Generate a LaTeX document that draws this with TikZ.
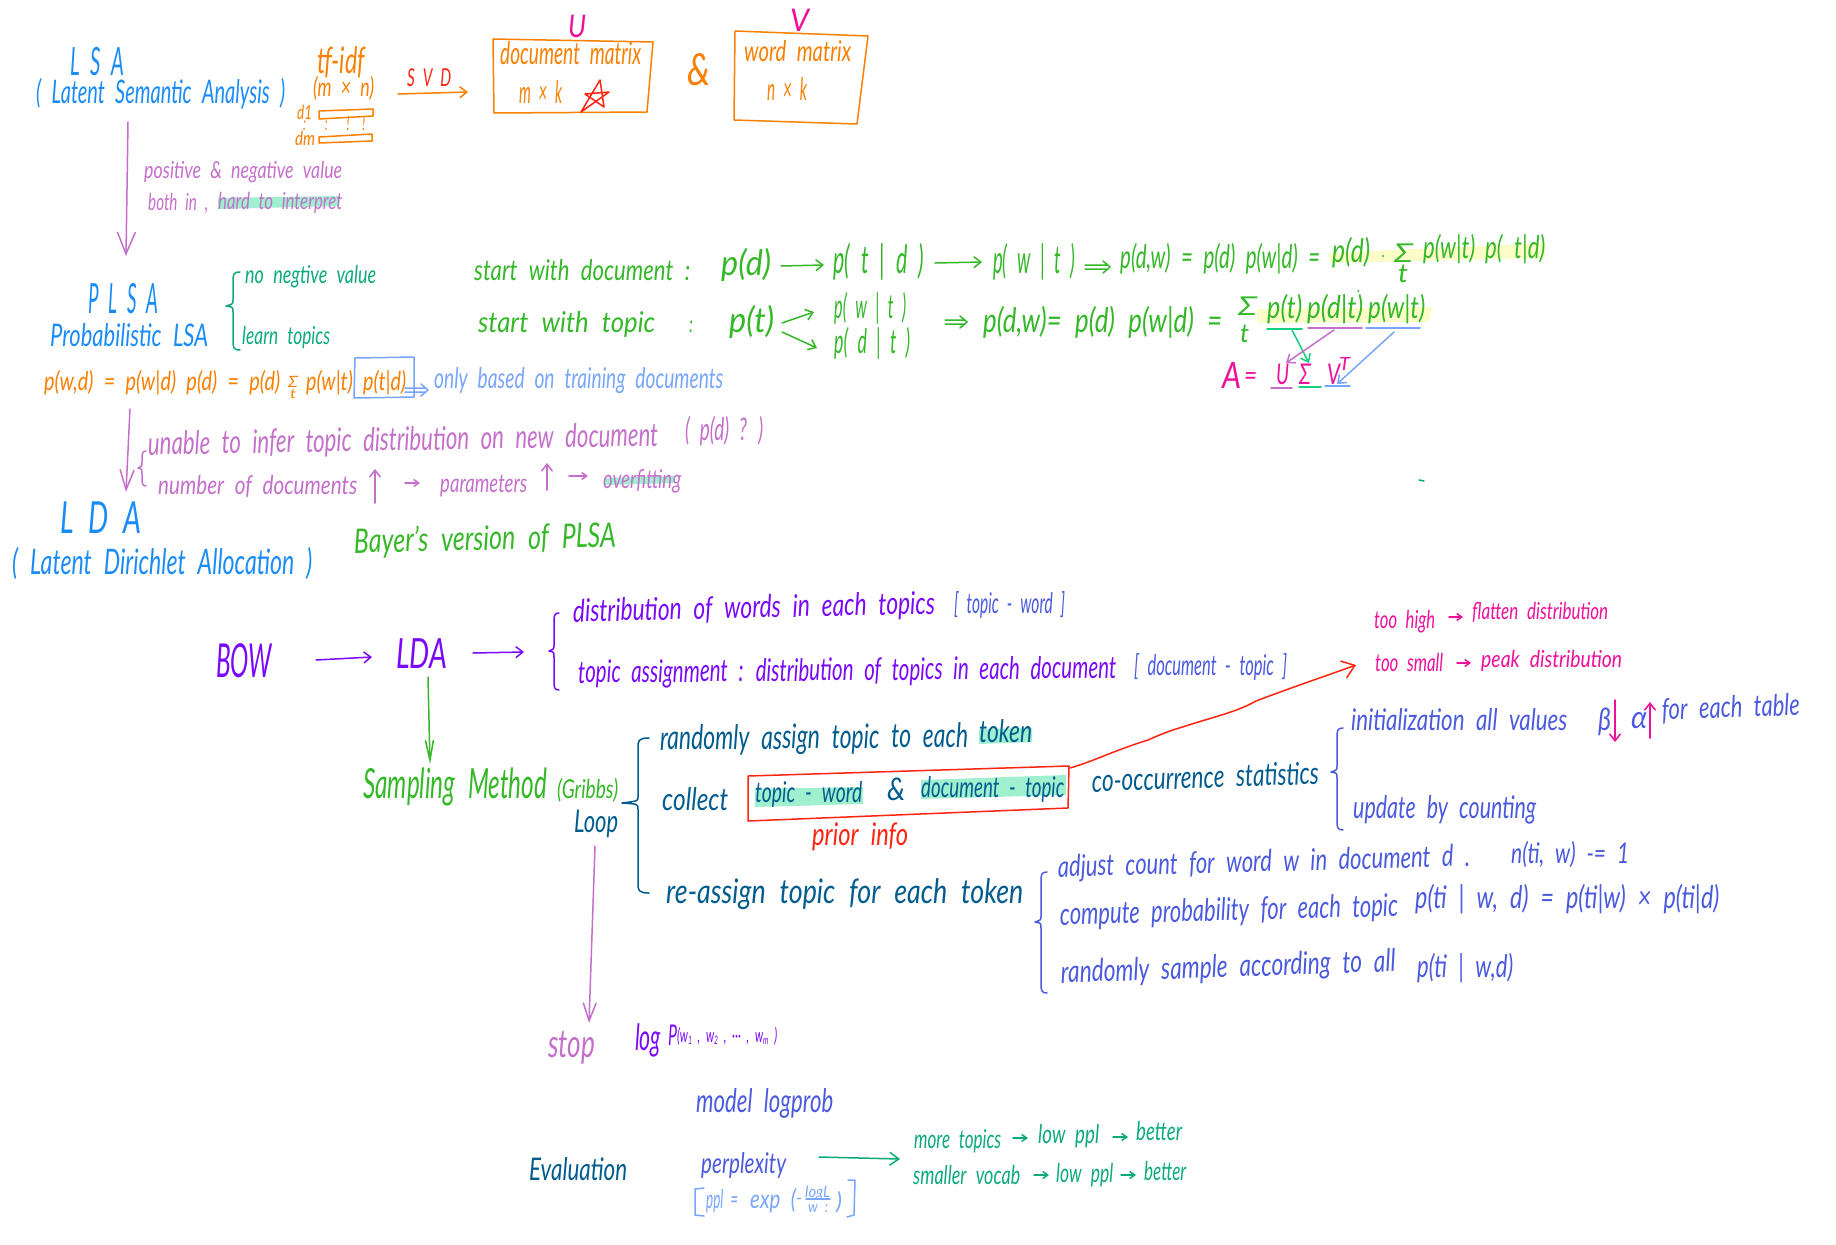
\documentclass[tikz,border=0pt]{standalone}
\usepackage{fontspec}
\usepackage{graphicx}
\setmainfont{Lato}[WordSpace=2.2]
\usetikzlibrary{arrows.meta}
\definecolor{cBlue}{HTML}{1A8CF8}
\definecolor{cOrange}{HTML}{F98000}
\definecolor{cRed}{HTML}{FF2410}
\definecolor{cPink}{HTML}{EE109A}
\definecolor{cMauve}{HTML}{C470CA}
\definecolor{cGreen}{HTML}{34B828}
\definecolor{cTeal}{HTML}{0CAA7A}
\definecolor{cMint}{HTML}{14CF80}
\definecolor{cViolet}{HTML}{7A08FA}
\definecolor{cNavy}{HTML}{005C8E}
\definecolor{cIndigo}{HTML}{4A5ADE}
\definecolor{cSky}{HTML}{78A6FC}
\definecolor{cHiT}{HTML}{A0F0D0}
\definecolor{cHiY}{HTML}{FBFCC8}
\newcommand{\hw}[7][]{\node[inner sep=0pt,anchor=base west,text=#6,#1] (#2) at (#3) {\resizebox{#4bp}{1.3\height}{\fontsize{#5bp}{#5bp}\selectfont\itshape #7}};}
\newcommand{\subs}[1]{\raisebox{-0.15em}{\scalebox{0.6}{#1}}}
\newcommand{\arr}[5][]{\coordinate (#2-a) at (#3);\coordinate (#2-b) at (#4);\draw[hand,#5,-{Straight Barb[length=7bp,width=11bp]},#1] (#2-a) -- (#2-b);}
\newcommand{\dbl}[5]{\coordinate (#1-a) at (#2,#4);\coordinate (#1-b) at (#3,#4);\draw[hand,#5] ([yshift=2bp]#1-a) -- ([xshift=-2bp,yshift=2bp]#1-b) ([yshift=-2bp]#1-a) -- ([xshift=-2bp,yshift=-2bp]#1-b) ([xshift=-7bp,yshift=6bp]#1-b) -- (#1-b) -- ([xshift=-7bp,yshift=-6bp]#1-b);}
% brace: left tip x, stem x, right x, top, mid, bottom, colour
\newcommand{\brc}[7]{\draw[hand,#7] (#3,#4) .. controls (#2,#4) and (#2,{#4+3}) .. (#2,{#4+10}) -- (#2,{#5-6}) .. controls (#2,{#5-2}) .. (#1,#5) .. controls (#2,{#5+1}) .. (#2,{#5+6}) -- (#2,{#6-10}) .. controls (#2,{#6-3}) and (#2,#6) .. (#3,#6);}
\tikzset{hand/.style={line width=1.5bp,line cap=round,line join=round}}
\begin{document}
\begin{tikzpicture}[x=1bp,y=-1bp]
\useasboundingbox (0,0) rectangle (1836,1244);
\fill[white] (0,0) rectangle (1836,1244);
% highlights
\fill[cHiT] (218,198) -- (340,196) -- (339,206) -- (218,209) -- cycle;
\fill[cHiT] (604,478) -- (675,476) -- (675,483) -- (604,485) -- cycle;
\fill[cHiT] (979,729) -- (1032,728) -- (1032,742) -- (979,744) -- cycle;
\fill[cHiT] (755,789) -- (863,787) -- (863,804) -- (755,807) -- cycle;
\fill[cHiT] (921,780) -- (1066,775) -- (1066,795) -- (921,799) -- cycle;
\fill[cHiY] (1328,253) -- (1545,243) -- (1545,258) -- (1330,263) -- cycle;
\fill[cHiY] (1257,309) -- (1433,307) -- (1428,322) -- (1257,323) -- cycle;
% LSA block
\hw{lsa}{70,75}{54}{30}{cBlue}{L S A}
\hw{lsaf}{36,103}{249}{25}{cBlue}{( Latent Semantic Analysis )}
\hw{tfidf}{317,73}{48}{28}{cOrange}{tf-idf}
\hw{mn}{313,96}{61}{20}{cOrange}{(m × n)}
\hw{done}{297,119}{15}{15}{cOrange}{d1}
\hw{dm}{295,145}{20}{15}{cOrange}{dm}
\hw{dots}{303,130}{62}{15}{cOrange}{: \ \ : \ \ ! \ !}
\draw[hand,cOrange] (319,111) -- (373,109) -- (373,116) -- (319,119) -- cycle;
\draw[hand,cOrange] (319,137) -- (372,134) -- (372,141) -- (319,143) -- cycle;
\hw{svd}{407,86}{44}{19}{cRed}{S V D}
\arr{asvd}{398,94}{468,92}{cOrange}
\draw[hand,cOrange] (493,39) -- (653,42) -- (647,112) -- (494,113) -- cycle;
\hw{u}{568,37}{18}{24}{cPink}{U}
\hw{docm}{500,64}{141}{24}{cOrange}{document matrix}
\hw{mk}{519,103}{43}{24}{cOrange}{m × k}
\draw[hand,cRed] (600,80) -- (581,112) (581,112) -- (609,92) -- (585,94) -- (604,107) -- (600,80);
\hw{amp}{687,85}{23}{34}{cOrange}{\&}
\draw[hand,cOrange] (735,31) -- (868,36) -- (857,124) -- (734,120) -- cycle;
\hw{v}{790,31}{19}{24}{cPink}{V}
\hw{wordm}{744,61}{107}{22}{cOrange}{word matrix}
\hw{nk}{767,100}{40}{24}{cOrange}{n × k}
\arr[-{Straight Barb[length=22bp,width=18bp]}]{alsa}{128,122}{126,256}{cMauve}
\hw{pos}{144,178}{198}{18}{cMauve}{positive \& negative value}
\hw{both}{148,210}{60}{18}{cMauve}{both in ,}
\hw{hard}{218,209}{124}{18}{cMauve}{hard to interpret}
% PLSA block
\hw{plsa}{88,313}{70}{32}{cBlue}{P L S A}
\hw{plsaf}{50,346}{158}{24}{cBlue}{Probabilistic LSA}
\brc{226}{233}{240}{272}{306}{350}{cTeal}
\hw{noneg}{245,283}{131}{19}{cTeal}{no negtive value}
\hw{learn}{242,344}{88}{19}{cTeal}{learn topics}
\hw{form}{44,390}{236}{20}{cOrange}{p(w,d) = p(w|d) p(d) = p(d)}
\hw{forms}{288,387}{10}{12}{cOrange}{Σ}
\hw{formt}{290,398}{6}{10}{cOrange}{t}
\hw{formb}{306,390}{100}{20}{cOrange}{p(w|t) p(t|d)}
\draw[hand,cSky] (355,358) -- (414,357) -- (414,397) -- (354,398) -- cycle;
\dbl{dblonly}{405}{428}{390}{cSky}
\hw{only}{434,388}{289}{22}{cSky}{only based on training documents}
\arr[-{Straight Barb[length=20bp,width=14bp]}]{aplsa}{130,409}{126,492}{cMauve}
\brc{138}{142}{146}{451}{468}{486}{cMauve}
\hw[rotate=1]{unable}{148,455}{510}{25}{cMauve}{unable to infer topic distribution on new document}
\hw{pdq}{685,440}{78}{24}{cMauve}{( p(d) ? )}
\hw{numd}{158,494}{199}{20}{cMauve}{number of documents}
\arr{aup}{375,503}{375,469}{cMauve}
\arr[-{Straight Barb[length=5bp,width=7bp]}]{anp}{405,483}{420,483}{cMauve}
\hw{params}{440,492}{87}{20}{cMauve}{parameters}
\arr{aupp}{547,490}{547,463}{cMauve}
\arr[-{Straight Barb[length=5bp,width=7bp]}]{apo}{569,476}{588,476}{cMauve}
\hw{over}{603,488}{78}{20}{cMauve}{overfitting}
% LDA heading
\hw{lda}{60,533}{81}{34}{cBlue}{L D A}
\hw{ldaf}{12,574}{300}{27}{cBlue}{( Latent Dirichlet Allocation )}
\hw[rotate=1.3]{bayer}{354,553}{262}{26}{cGreen}{Bayer's version of PLSA}
% start with document
\hw{swd}{474,280}{216}{22}{cGreen}{start with document :}
\hw{pd}{721,275}{50}{27}{cGreen}{p(d)}
\arr{ad}{781,266}{824,265}{cGreen}
\hw{ptd}{833,273}{91}{30}{cGreen}{p( t | d )}
\arr{atd}{935,263}{982,262}{cGreen}
\hw{pwt}{993,273}{82}{30}{cGreen}{p( w | t )}
\dbl{dbla}{1085}{1110}{267}{cGreen}
\hw{pdw}{1120,268}{200}{25}{cGreen}{p(d,w) = p(d) p(w|d) =}
\hw{pdb}{1332,262}{38}{25}{cGreen}{p(d)}
\node[circle,fill=cGreen,inner sep=0.8bp] (cdot) at (1383,256) {};
\hw{sig}{1394,262}{19}{20}{cGreen}{Σ}
\hw{sigt}{1398,282}{10}{20}{cGreen}{t}
\hw{pwtb}{1423,258}{52}{24}{cGreen}{p(w|t)}
\hw{ptdb}{1485,258}{60}{24}{cGreen}{p( t|d)}
% start with topic
\hw{swt}{478,332}{177}{22}{cGreen}{start with topic}
\hw{colon}{689,332}{4}{18}{cGreen}{:}
\hw{pt}{729,332}{45}{27}{cGreen}{p(t)}
\arr{af}{782,323}{814,312}{cGreen}
\arr{ag}{782,332}{817,348}{cGreen}
\hw{pwt2}{834,318}{72}{26}{cGreen}{p( w | t )}
\hw{pdt2}{834,353}{76}{26}{cGreen}{p( d | t )}
\dbl{dblb}{945}{967}{322}{cGreen}
\hw{pdw2}{983,332}{239}{26}{cGreen}{p(d,w)= p(d) p(w|d) =}
\hw{sig2}{1238,315}{19}{20}{cGreen}{Σ}
\hw{sigt2}{1240,342}{9}{20}{cGreen}{t}
\hw{t1}{1267,318}{35}{24}{cGreen}{p(t)}
\hw{t2}{1307,318}{56}{24}{cGreen}{p(d|t)}
\hw{t3}{1368,318}{57}{24}{cGreen}{p(w|t)}
\draw[hand,cMint] (1267,329) -- (1302,329);
\draw[hand,cMauve] (1308,328) -- (1362,328);
\draw[hand,cSky] (1366,328) -- (1420,328);
\arr{ag1}{1292,330}{1309,363}{cMint}
\arr{ag2}{1334,330}{1286,363}{cMauve}
\arr{ag3}{1394,332}{1337,384}{cSky}
\hw{aa}{1222,388}{19}{28}{cPink}{A}
\hw{aeq}{1244,385}{13}{22}{cPink}{=}
\hw{au}{1276,384}{13}{22}{cPink}{U}
\hw{asig}{1299,384}{12}{22}{cPink}{Σ}
\hw{av}{1327,384}{13}{22}{cPink}{V}
\hw{at}{1339,370}{11}{14}{cPink}{T}
\draw[hand,cMauve] (1271,388) -- (1292,388);
\draw[hand,cMint] (1299,387) -- (1321,387);
\draw[hand,cSky] (1325,386) -- (1350,386);
\draw[hand,cGreen] (1358,291) -- (1358.6,291);
\draw[hand,cTeal] (1419,480) -- (1424,481);
% BOW row
\hw{bow}{216,677}{56}{36}{cViolet}{BOW}
\arr{ab}{316,660}{372,657}{cViolet}
\hw{lda2}{396,668}{51}{32}{cViolet}{LDA}
\arr{al}{473,653}{524,652}{cViolet}
\brc{549}{554}{559}{613}{651}{690}{cViolet}
\hw[rotate=1.3]{dist}{573,622}{362}{24}{cViolet}{distribution of words in each topics}
\hw{tw}{954,613}{111}{22}{cIndigo}{[ topic - word ]}
\hw[rotate=.5]{topa}{578,683}{538}{24}{cViolet}{topic assignment : distribution of topics in each document}
\hw{dt}{1134,675}{153}{22}{cIndigo}{[ document - topic ]}
\arr[-{Straight Barb[length=20bp,width=8bp]}]{ala}{428,677}{430,764}{cGreen}
\hw{samp}{363,798}{184}{32}{cGreen}{Sampling Method}
\hw{gibbs}{557,798}{61}{20}{cGreen}{(Gribbs)}
\hw{loop}{574,832}{44}{24}{cNavy}{Loop}
\brc{622}{638}{649}{738}{803}{893}{cNavy}
\hw[rotate=.5]{rand}{660,750}{308}{26}{cNavy}{randomly assign topic to each}
\hw{token}{979,742}{53}{24}{cNavy}{token}
\hw{coll}{662,810}{66}{24}{cNavy}{collect}
\hw{ttw}{755,802}{107}{22}{cNavy}{topic - word}
\hw{tamp}{887,800}{18}{24}{cNavy}{\&}
\hw{tdt}{921,797}{143}{22}{cNavy}{document - topic}
\draw[hand,cRed] (748,776) -- (1069,766) -- (1068,808) -- (748,821) -- cycle;
\hw{prior}{812,845}{96}{24}{cRed}{prior info}
\coordinate (ra) at (1070,768);
\draw[hand,cRed,-{Straight Barb[length=12bp,width=18bp]}] (ra) .. controls (1097,760) and (1110,752) .. (1148,740) .. controls (1170,730) and (1180,728) .. (1195,723) .. controls (1225,714) and (1240,710) .. (1256,701) .. controls (1290,688) and (1320,678) .. (1356,665);
\hw{high}{1374,628}{61}{19}{cPink}{too high}
\arr[-{Straight Barb[length=5bp,width=7bp]}]{ah}{1449,617}{1463,617}{cPink}
\hw{flat}{1472,619}{136}{18}{cPink}{flatten distribution}
\hw{small}{1375,671}{68}{19}{cPink}{too small}
\arr[-{Straight Barb[length=5bp,width=7bp]}]{as}{1457,663}{1471,663}{cPink}
\hw{peak}{1481,667}{141}{18}{cPink}{peak distribution}
\hw[rotate=2]{cooc}{1092,792}{227}{24}{cNavy}{co-occurrence statistics}
\brc{1331}{1337}{1343}{728}{772}{830}{cIndigo}
\hw{init}{1351,730}{216}{23}{cIndigo}{initialization all values}
\hw{beta}{1598,730}{13}{24}{cIndigo}{β}
\arr{aba}{1615,700}{1615,742}{cPink}
\hw{alpha}{1631,728}{16}{24}{cIndigo}{α}
\arr{aal}{1650,738}{1650,702}{cPink}
\hw[rotate=2]{fet}{1662,720}{138}{23}{cIndigo}{for each table}
\hw{upd}{1353,818}{183}{24}{cIndigo}{update by counting}
\hw{reas}{666,903}{357}{26}{cNavy}{re-assign topic for each token}
\brc{1035}{1041}{1047}{872}{922}{993}{cIndigo}
\hw[rotate=1.5]{adj}{1058,877}{412}{23}{cIndigo}{adjust count for word w in document d .}
\hw{nt}{1511,863}{118}{22}{cIndigo}{n(ti, w) -= 1}
\hw[rotate=1.5]{comp}{1060,925}{338}{24}{cIndigo}{compute probability for each topic}
\hw{pf}{1415,908}{304}{24}{cIndigo}{p(ti | w, d) = p(ti|w) × p(ti|d)}
\hw[rotate=2]{rs}{1061,983}{335}{24}{cIndigo}{randomly sample according to all}
\hw{pg}{1417,977}{96}{24}{cIndigo}{p(ti | w,d)}
\arr[-{Straight Barb[length=18bp,width=13bp]}]{aloop}{595,846}{589,1023}{cMauve}
\hw{stop}{548,1057}{47}{30}{cMauve}{stop}
\hw{log}{635,1050}{26}{28}{cViolet}{log}
\hw{bigp}{668,1045}{9}{22}{cViolet}{P}
\hw{wlist}{677,1042}{100}{15}{cViolet}{(w\subs{1} , w\subs{2} , ··· , w\subs{m} )}
\hw{modl}{696,1112}{137}{25}{cIndigo}{model logprob}
\hw{eval}{529,1180}{98}{24}{cNavy}{Evaluation}
\hw{perp}{701,1173}{85}{22}{cIndigo}{perplexity}
\arr[-{Straight Barb[length=9bp,width=13bp]}]{ap}{819,1157}{900,1159}{cTeal}
\hw{more}{914,1148}{87}{20}{cTeal}{more topics}
\arr[-{Straight Barb[length=5bp,width=7bp]}]{am1}{1013,1138}{1028,1138}{cTeal}
\hw{low1}{1038,1143}{61}{20}{cTeal}{low ppl}
\arr[-{Straight Barb[length=5bp,width=7bp]}]{am2}{1113,1137}{1128,1137}{cTeal}
\hw{bet1}{1136,1140}{46}{20}{cTeal}{better}
\hw{smal}{913,1184}{107}{20}{cTeal}{smaller vocab}
\arr[-{Straight Barb[length=5bp,width=7bp]}]{am3}{1034,1175}{1049,1175}{cTeal}
\hw{low2}{1056,1182}{57}{20}{cTeal}{low ppl}
\arr[-{Straight Barb[length=5bp,width=7bp]}]{am4}{1121,1175}{1136,1175}{cTeal}
\hw{bet2}{1144,1180}{42}{20}{cTeal}{better}
\draw[hand,cSky] (704,1188) -- (695,1189) -- (695,1215) -- (704,1216);
\hw{ppl}{706,1208}{32}{20}{cSky}{ppl =}
\hw{expp}{750,1208}{46}{20}{cSky}{exp (}
\hw{minus}{796,1204}{6}{14}{cSky}{-}
\hw{logl}{805,1197}{25}{12}{cSky}{logL}
\draw[hand,cSky] (806,1199) -- (830,1199);
\hw{ww}{808,1212}{20}{12}{cSky}{w :}
\hw{closep}{836,1209}{6}{18}{cSky}{)}
\draw[hand,cSky] (848,1180) -- (855,1180) -- (854,1215) -- (847,1217);
\end{tikzpicture}
\end{document}
